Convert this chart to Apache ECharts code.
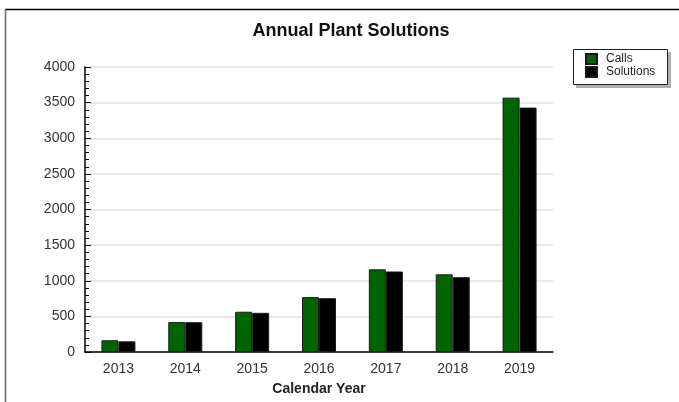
<!DOCTYPE html>
<html>
<head>
<meta charset="utf-8">
<script src="https://cdn.jsdelivr.net/npm/echarts@6/dist/echarts.min.js"></script>
<style>
html,body{margin:0;padding:0;background:#fff;}
#chart{width:679px;height:402px;}
</style>
</head>
<body>
<div id="chart"></div>
<script>
var years = ['2013', '2014', '2015', '2016', '2017', '2018', '2019'];
var calls = [165, 420, 565, 770, 1160, 1090, 3570];
var solutions = [150, 418, 550, 755, 1130, 1050, 3430];

var chart = echarts.init(document.getElementById('chart'), null, {renderer: 'canvas'});
var FONT = 'Liberation Sans, Arial, sans-serif';
chart.setOption({
  animation: false,
  backgroundColor: '#fff',
  textStyle: {fontFamily: FONT},
  title: {
    text: 'Annual Plant Solutions',
    left: 346, textAlign: 'center', top: 17,
    textStyle: {fontSize: 18, fontWeight: 'bold', color: '#111', fontFamily: FONT}
  },
  graphic: [
    {type: 'line', shape: {x1: 5, y1: 9.5, x2: 679, y2: 9.5}, style: {stroke: '#000', lineWidth: 1.5}, z: 10},
    {type: 'line', shape: {x1: 5.5, y1: 9, x2: 5.5, y2: 402}, style: {stroke: '#666', lineWidth: 1.5}, z: 10},
    {type: 'rect', shape: {x: 576, y: 52, width: 95, height: 36}, style: {fill: '#b0b0b0'}, z: 1},
    {type: 'rect', shape: {x: 573.5, y: 49.5, width: 94, height: 35},
     style: {fill: '#fff', stroke: '#222', lineWidth: 1}, z: 2}
  ],
  legend: {
    orient: 'vertical', left: 585, top: 53, padding: 0,
    itemWidth: 11, itemHeight: 10, itemGap: 1,
    icon: 'rect',
    textStyle: {fontSize: 12, color: '#222', fontFamily: FONT, padding: [0, 0, 0, 4]},
    z: 5,
    data: ['Calls', 'Solutions']
  },
  grid: {left: 85, right: 126, top: 67, bottom: 50, containLabel: false},
  xAxis: {
    type: 'category', data: years,
    name: 'Calendar Year', nameLocation: 'middle', nameGap: 30,
    nameTextStyle: {fontSize: 14, fontWeight: 'bold', color: '#222', fontFamily: FONT},
    axisLine: {lineStyle: {color: '#000', width: 1.5}},
    axisTick: {inside: true, length: 5, lineStyle: {color: '#000'}},
    axisLabel: {fontSize: 14, color: '#333', margin: 10, fontFamily: FONT},
    splitLine: {show: false}
  },
  yAxis: {
    type: 'value', min: 0, max: 4000, interval: 500,
    axisLine: {show: true, lineStyle: {color: '#000', width: 1.5}},
    axisTick: {show: true, inside: true, length: 6, lineStyle: {color: '#000'}},
    minorTick: {show: true, splitNumber: 5, length: 4, lineStyle: {color: '#000'}},
    axisLabel: {fontSize: 14, color: '#333', margin: 10, fontFamily: FONT,
      formatter: function (v) { return String(v); }},
    splitLine: {show: true, lineStyle: {color: '#e0e0e0', width: 1.5}}
  },
  series: [
    {name: 'Calls', type: 'bar', data: calls, barWidth: 17, barGap: '0%',
     itemStyle: {color: '#006400', borderColor: '#1a1a1a', borderWidth: 1}},
    {name: 'Solutions', type: 'bar', data: solutions, barWidth: 17,
     itemStyle: {color: '#000', borderColor: '#1a1a1a', borderWidth: 1}}
  ]
});
</script>
</body>
</html>
